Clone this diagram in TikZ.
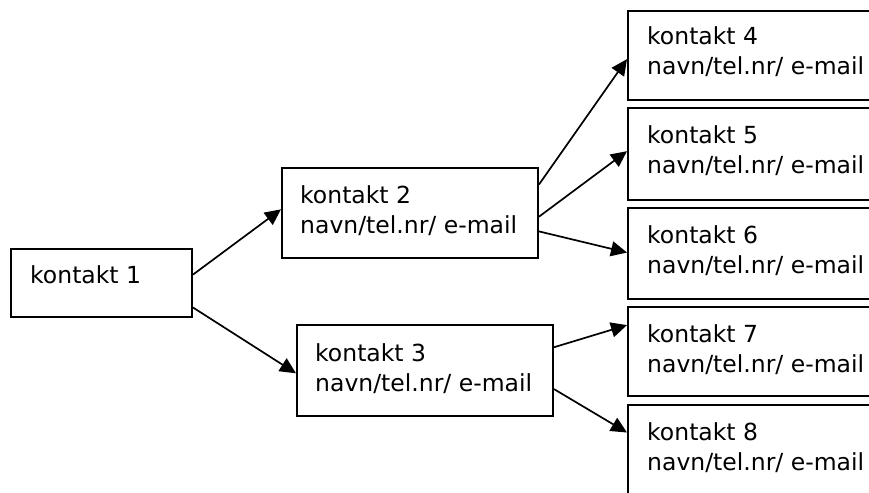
\documentclass[tikz,border=0pt]{standalone}
\usepackage{fontspec}
\setmainfont{DejaVu Sans}
\usetikzlibrary{arrows.meta,calc}
\tikzset{
  box/.style={draw=black, line width=2pt, fill=white, inner sep=0pt, anchor=north west},
  lbl/.style={anchor=base west, inner sep=0pt, font=\fontsize{23.5}{30}\selectfont},
  conn/.style={line width=1.7pt, -{Triangle[length=16pt,width=15pt]}},
}
\newcommand{\twolines}[1]{\begin{tabular}[t]{@{}l@{}}kontakt #1\\navn/tel.nr/ e-mail\end{tabular}}
\begin{document}
\begin{tikzpicture}[x=1pt,y=-1pt]
\useasboundingbox (0,0) rectangle (869,492);
\clip (0,0) rectangle (869,492);
% boxes
\node[box, minimum width=181pt, minimum height=68pt] (b1) at (10,248) {};
\node[box, minimum width=256pt, minimum height=90pt] (b2) at (281,167) {};
\node[box, minimum width=256pt, minimum height=91pt] (b3) at (296,324) {};
\node[box, minimum width=300pt, minimum height=89pt] (b4) at (627,10) {};
\node[box, minimum width=300pt, minimum height=92pt] (b5) at (627,107) {};
\node[box, minimum width=300pt, minimum height=91pt] (b6) at (627,207) {};
\node[box, minimum width=300pt, minimum height=89pt] (b7) at (627,306) {};
\node[box, minimum width=300pt, minimum height=90pt] (b8) at (627,404) {};
% texts
\node[lbl] (t1) at ($(b1.north west)+(20,35)$) {kontakt 1};
\node[lbl] (t2) at ($(b2.north west)+(19,36)$) {\twolines{2}};
\node[lbl] (t3) at ($(b3.north west)+(19,37)$) {\twolines{3}};
\node[lbl] (t4) at ($(b4.north west)+(20,35)$) {\twolines{4}};
\node[lbl] (t5) at ($(b5.north west)+(20,36)$) {\twolines{5}};
\node[lbl] (t6) at ($(b6.north west)+(20,36)$) {\twolines{6}};
\node[lbl] (t7) at ($(b7.north west)+(20,36)$) {\twolines{7}};
\node[lbl] (t8) at ($(b8.north west)+(20,36)$) {\twolines{8}};
% connectors
\draw[conn] ($(b1.north east)!0.38!(b1.south east)$) -- ($(b2.north west)!0.46!(b2.south west)$);
\draw[conn] ($(b1.north east)!0.85!(b1.south east)$) -- ($(b3.north west)!0.53!(b3.south west)$);
\draw[conn] ($(b2.north east)!0.19!(b2.south east)$) -- ($(b4.north west)!0.54!(b4.south west)$);
\draw[conn] ($(b2.north east)!0.54!(b2.south east)$) -- ($(b5.north west)!0.47!(b5.south west)$);
\draw[conn] ($(b2.north east)!0.70!(b2.south east)$) -- ($(b6.north west)!0.49!(b6.south west)$);
\draw[conn] ($(b3.north east)!0.25!(b3.south east)$) -- ($(b7.north west)!0.21!(b7.south west)$);
\draw[conn] ($(b3.north east)!0.70!(b3.south east)$) -- ($(b8.north west)!0.31!(b8.south west)$);
\end{tikzpicture}
\end{document}
